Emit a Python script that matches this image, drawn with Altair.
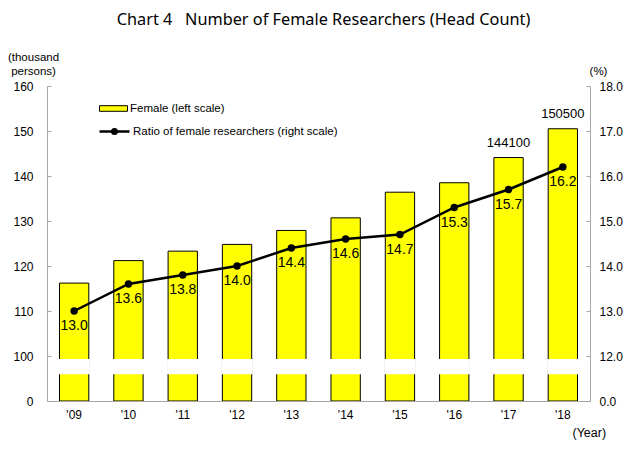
import altair as alt
import pandas as pd

# ---------------- data ----------------
YEARS = ["'09", "'10", "'11", "'12", "'13", "'14", "'15", "'16", "'17", "'18"]
FEMALE = [116.2, 121.2, 123.3, 124.8, 127.9, 130.7, 136.4, 138.5, 144.1, 150.5]  # thousand persons
RATIO = [13.0, 13.6, 13.8, 14.0, 14.4, 14.6, 14.7, 15.3, 15.7, 16.2]            # %
BAR_LABELS = ["", "", "", "", "", "", "", "", "144100", "150500"]
LEFT_TICKS = [0, 100, 110, 120, 130, 140, 150, 160]
LEFT_TICK_LABELS = ["0", "100", "110", "120", "130", "140", "150", "160"]
RIGHT_TICKS = [0.0, 12.0, 13.0, 14.0, 15.0, 16.0, 17.0, 18.0]
RIGHT_TICK_LABELS = ["0.0", "12.0", "13.0", "14.0", "15.0", "16.0", "17.0", "18.0"]
BREAK = [61.5, 91.0]  # axis break band (thousand persons, lower segment)
SERIES_BAR = "Female (left scale)"
SERIES_LINE = "Ratio of female researchers (right scale)"

# broken axis: lower segment compressed, upper segment expanded
def pos_left(v):
    return v / 100 if v <= 100 else 1 + (v - 100) / 10

def pos_right(v):
    return v / 12 if v <= 12 else 1 + (v - 12)

LPOS = [pos_left(v) for v in LEFT_TICKS]
RPOS = [pos_right(v) for v in RIGHT_TICKS]

def label_expr(pos, labels):
    s = "''"
    for p, l in reversed(list(zip(pos, labels))):
        s = f"datum.value === {p} ? '{l}' : ({s})"
    return s

W, H = 543, 315
FONT = "Liberation Sans"
GRAY = "#a6a6a6"

df = pd.DataFrame({
    "year": YEARS, "female": FEMALE, "ratio": RATIO, "blabel": BAR_LABELS,
    "series": SERIES_BAR, "series2": SERIES_LINE,
    "lo": BREAK[0], "hi": BREAK[1],
})

base = alt.Chart(df).transform_calculate(
    fpos="datum.female <= 100 ? datum.female / 100 : 1 + (datum.female - 100) / 10",
    rpos="datum.ratio <= 12 ? datum.ratio / 12 : 1 + (datum.ratio - 12)",
    lopos="datum.lo / 100",
    hipos="datum.hi / 100",
    rlabel="format(datum.ratio, '.1f')",
)

yscale = alt.Scale(domain=[0, 7], nice=False, zero=False)

x = alt.X(
    "year:N", sort=YEARS,
    scale=alt.Scale(paddingInner=0.46, paddingOuter=0.23),
    axis=alt.Axis(
        title="(Year)", labelAngle=0, ticks=False, domainColor=GRAY,
        labelPadding=8, labelFontSize=12, labelFont=FONT, labelColor="black",
        titleX=525, titleY=31, titleAlign="left", titleBaseline="middle",
        titleFontWeight="normal", titleFontSize=12.5, titleFont=FONT, zindex=1,
    ),
)

left_axis = alt.Axis(
    orient="left", values=LPOS, labelExpr=label_expr(LPOS, LEFT_TICK_LABELS),
    ticks=False, domainColor=GRAY, labelPadding=14, labelFontSize=12, labelFont=FONT,
    labelColor="black", grid=False,
    title=["(thousand", "persons)"], titleAngle=0, titleAlign="center",
    titleX=-14, titleY=-24, titleBaseline="bottom", titleFontWeight="normal",
    titleFontSize=11.5, titleFont=FONT, titleLineHeight=14, zindex=1,
)
right_axis = alt.Axis(
    orient="right", values=RPOS, labelExpr=label_expr(RPOS, RIGHT_TICK_LABELS),
    ticks=False, domainColor=GRAY, labelPadding=9, labelFontSize=12, labelFont=FONT,
    labelColor="black", grid=False,
    title="(%)", titleAngle=0, titleAlign="center", titleX=8, titleY=-10,
    titleBaseline="bottom", titleFontWeight="normal", titleFontSize=11.5,
    titleFont=FONT, zindex=1,
)
left_tick_axis = alt.Axis(orient="left", values=LPOS, labels=False, domain=False,
                          tickSize=4, tickColor=GRAY, offset=-4, title=None, grid=False)
right_tick_axis = alt.Axis(orient="right", values=RPOS, labels=False, domain=False,
                           tickSize=4, tickColor=GRAY, offset=-4, title=None, grid=False)

bars = base.mark_bar(stroke="black", strokeWidth=1).encode(
    x=x,
    y=alt.Y("fpos:Q", scale=yscale, axis=left_axis),
    fill=alt.Fill("series:N", scale=alt.Scale(range=["#FFFF00"]),
                  legend=alt.Legend(
                      title=None, orient="none", legendX=52, legendY=8,
                      symbolType="M-1,-0.2H1V0.2H-1Z", symbolSize=784,
                      symbolStrokeColor="black", symbolStrokeWidth=1,
                      labelFontSize=11.5, labelFont=FONT, labelOffset=2,
                      labelLimit=400,
                  )),
)

band = base.mark_bar(color="white", stroke="white", strokeWidth=2).encode(
    x=x,
    y=alt.Y("lopos:Q", scale=yscale, axis=None),
    y2="hipos:Q",
)

line_path = ("M-1,0H1"
             "M-0.0833,0A0.0833,0.0833,0,1,1,0.0833,0A0.0833,0.0833,0,1,1,-0.0833,0"
             "M-0.15,0A0.15,0.15,0,1,1,0.15,0A0.15,0.15,0,1,1,-0.15,0")

line = base.mark_line(strokeWidth=2.5).encode(
    x=x,
    y=alt.Y("rpos:Q", scale=yscale, axis=right_axis),
    stroke=alt.Stroke("series2:N", scale=alt.Scale(range=["black"]),
                      legend=alt.Legend(
                          title=None, orient="none", legendX=51, legendY=29,
                          symbolType=line_path, symbolSize=900,
                          symbolStrokeWidth=2.5,
                          labelFontSize=11.5, labelFont=FONT, labelOffset=2,
                          labelLimit=400,
                      )),
)

points = base.mark_point(filled=True, color="black", size=55, opacity=1).encode(
    x=x,
    y=alt.Y("rpos:Q", scale=yscale, axis=left_tick_axis),
)

rlabels = base.mark_text(dy=15, fontSize=14, font=FONT, color="black").encode(
    x=x,
    y=alt.Y("rpos:Q", scale=yscale, axis=right_tick_axis),
    text="rlabel:N",
)

blabels = base.transform_filter("datum.blabel != ''").mark_text(
    dy=-15, fontSize=13, font=FONT, color="black", baseline="middle"
).encode(
    x=x,
    y=alt.Y("fpos:Q", scale=yscale, axis=None),
    text="blabel:N",
)

chart = alt.layer(bars, band, line, points, rlabels, blabels).resolve_scale(
    y="independent"
).properties(
    width=W, height=H,
    title=alt.TitleParams(
        "Chart 4\u00a0\u00a0\u00a0Number of Female Researchers (Head Count)",
        fontSize=16.3, font="Noto Sans", fontWeight="normal",
        anchor="middle", offset=23, dx=5, color="black",
    ),
    autosize=alt.AutoSizeParams(type="none"),
    padding={"left": 39, "top": 78, "right": 38, "bottom": 41},
).configure_view(stroke=None)

chart.save("out.html", embed_options={"renderer": "svg", "actions": False})
